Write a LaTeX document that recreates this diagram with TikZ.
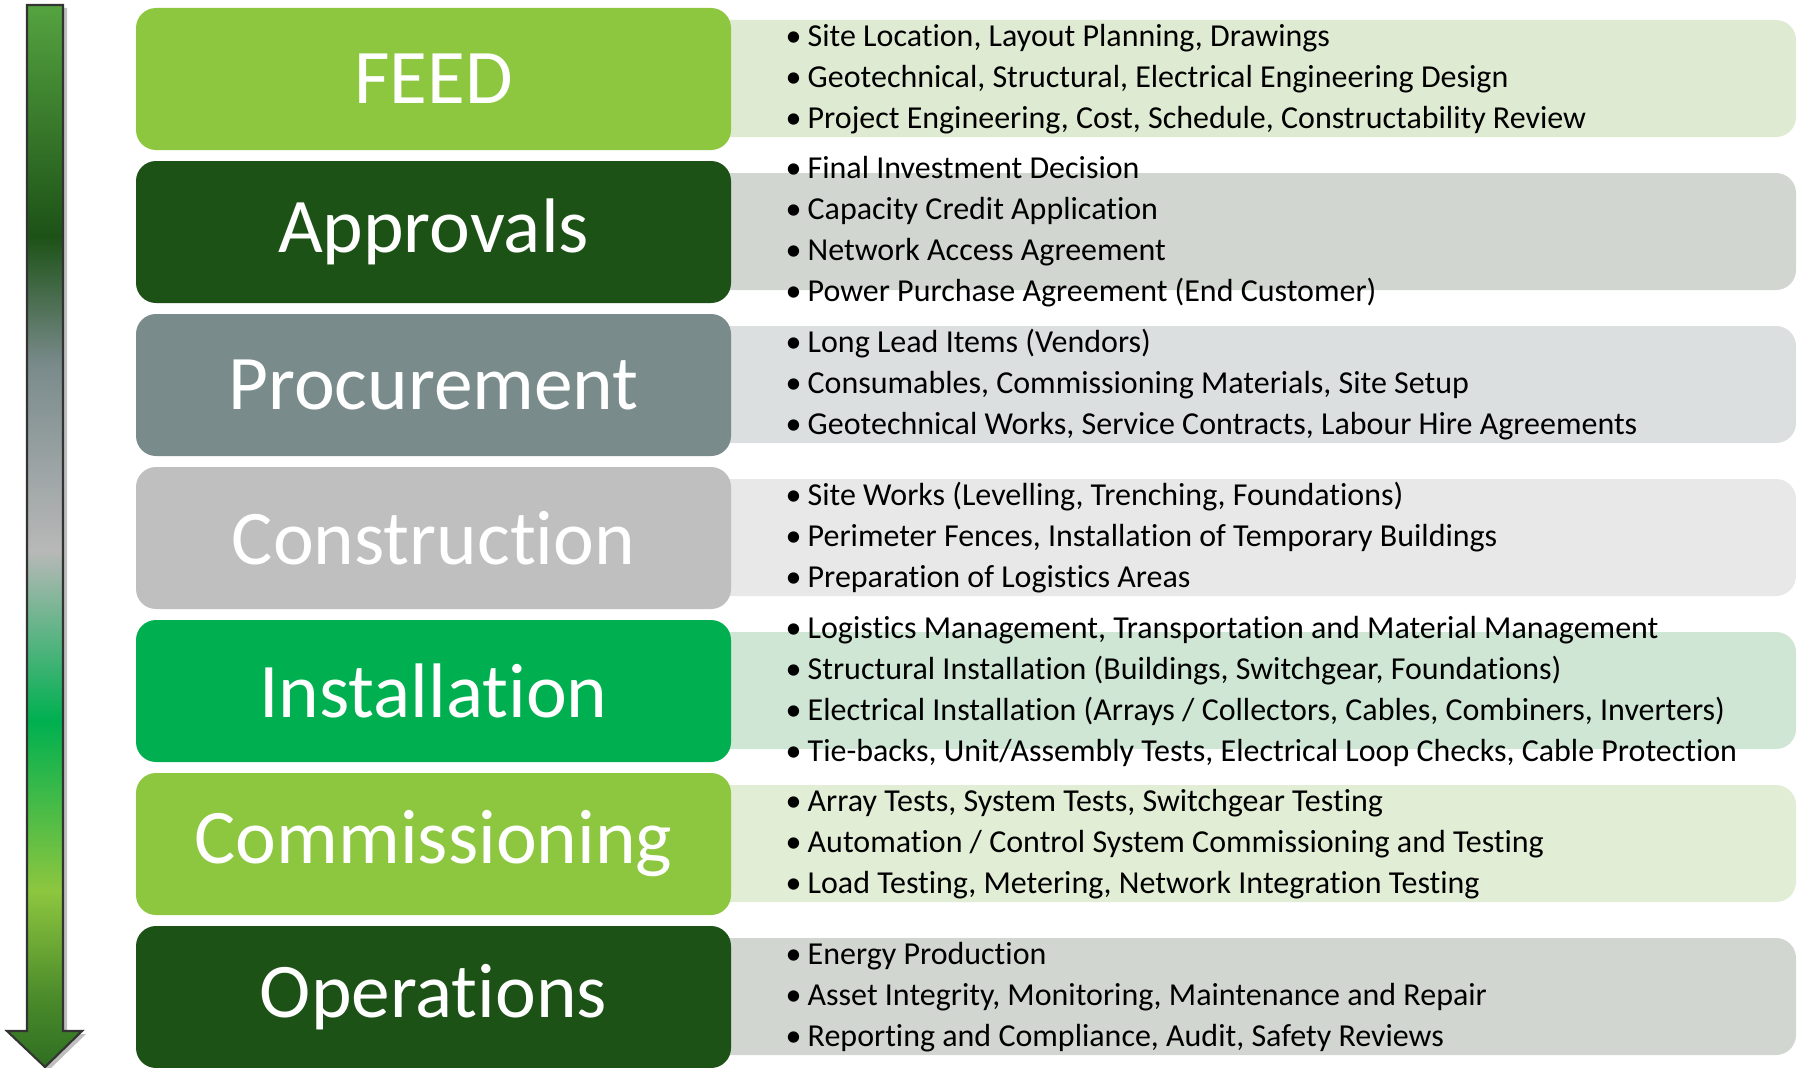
\documentclass[tikz,border=0pt]{standalone}
\usepackage{fontspec}
\setmainfont[Ligatures=NoCommon]{Carlito}
\usepackage{xcolor}
\usepackage{tikz}
\usetikzlibrary{shapes, positioning, calc, shadows}

\definecolor{feedcolor}{RGB}{141, 198, 63}
\definecolor{approvalcolor}{RGB}{29, 82, 23}
\definecolor{procurecolor}{RGB}{122, 139, 140}
\definecolor{constructcolor}{RGB}{191, 191, 191}
\definecolor{installcolor}{RGB}{0, 176, 80}
\definecolor{commissioncolor}{RGB}{141, 198, 63}
\definecolor{operatecolor}{RGB}{29, 82, 23}
\definecolor{feedpanel}{RGB}{223, 234, 211}
\definecolor{approvalpanel}{RGB}{209, 214, 209}
\definecolor{procurepanel}{RGB}{219, 223, 224}
\definecolor{constructpanel}{RGB}{232, 232, 232}
\definecolor{installpanel}{RGB}{207, 230, 213}
\definecolor{commissionpanel}{RGB}{225, 237, 213}
\definecolor{operatepanel}{RGB}{209, 214, 209}
\definecolor{arrowtop}{RGB}{85, 163, 64}
\definecolor{arrowlight}{RGB}{184, 184, 184}
\definecolor{arrowolive}{RGB}{74, 138, 42}
\definecolor{arrowbottom}{RGB}{47, 110, 34}

\pgfdeclareverticalshading{phaseflow}{100bp}{%
  color(0bp)=(arrowbottom); color(25bp)=(arrowbottom);
  color(28.2bp)=(arrowolive); color(33.3bp)=(commissioncolor);
  color(41.3bp)=(installcolor); color(49.3bp)=(arrowlight);
  color(58bp)=(procurecolor); color(64.1bp)=(approvalcolor);
  color(75bp)=(arrowtop); color(100bp)=(arrowtop)}

\tikzset{
  phasebox/.style={rounded corners=0.2cm, minimum width=5.95cm, minimum height=1.42cm,
    inner sep=0pt, text=white, font=\fontsize{22}{26}\selectfont},
  infopanel/.style={rounded corners=0.2cm, minimum width=11.06cm, minimum height=1.17cm,
    inner sep=0pt},
  infotext/.style={anchor=west, inner sep=0pt, align=left,
    font=\fontsize{9.1}{11.66}\selectfont},
}
\newcommand{\itm}[1]{\makebox[0.22cm][l]{\textbullet}#1}

\begin{document}
\begin{tikzpicture}
    \useasboundingbox (0,0) rectangle (18.05,10.67);

    % Flow arrow
    \fill[black!25] (0.31,10.59) -- (0.67,10.59) -- (0.67,0.33) -- (0.86,0.33)
        -- (0.49,-0.03) -- (0.11,0.33) -- (0.31,0.33) -- cycle;
    \draw[black!80, line width=0.6pt, shading=phaseflow] (0.27,10.62) -- (0.63,10.62)
        -- (0.63,0.36) -- (0.82,0.36) -- (0.45,0) -- (0.07,0.36) -- (0.27,0.36) -- cycle;

    % Panels
    \node[infopanel, fill=feedpanel] (feedpanel) at (12.43,9.885) {};
    \node[infopanel, fill=approvalpanel] (approvalpanel) at (12.43,8.355) {};
    \node[infopanel, fill=procurepanel] (procurepanel) at (12.43,6.825) {};
    \node[infopanel, fill=constructpanel] (constructpanel) at (12.43,5.295) {};
    \node[infopanel, fill=installpanel] (installpanel) at (12.43,3.765) {};
    \node[infopanel, fill=commissionpanel] (commissionpanel) at (12.43,2.235) {};
    \node[infopanel, fill=operatepanel] (operatepanel) at (12.43,0.705) {};

    % Phase boxes
    \node[phasebox, fill=feedcolor] (feed) at (4.335,9.88) {FEED};
    \node[phasebox, fill=approvalcolor] (approvals) at (4.335,8.35) {Approvals};
    \node[phasebox, fill=procurecolor] (procurement) at (4.335,6.82) {Procurement};
    \node[phasebox, fill=constructcolor] (construction) at (4.335,5.29) {Construction};
    \node[phasebox, fill=installcolor] (installation) at (4.335,3.76) {Installation};
    \node[phasebox, fill=commissioncolor] (commissioning) at (4.335,2.23) {Commissioning};
    \node[phasebox, fill=operatecolor] (operations) at (4.335,0.70) {Operations};

    % Tasks
    \node[infotext] (feedtasks) at (7.85,9.88) {%
        \itm{Site Location, Layout Planning, Drawings}\\
        \itm{Geotechnical, Structural, Electrical Engineering Design}\\
        \itm{Project Engineering, Cost, Schedule, Constructability Review}};
    \node[infotext] (approvaltasks) at (7.85,8.35) {%
        \itm{Final Investment Decision}\\
        \itm{Capacity Credit Application}\\
        \itm{Network Access Agreement}\\
        \itm{Power Purchase Agreement (End Customer)}};
    \node[infotext] (procuretasks) at (7.85,6.82) {%
        \itm{Long Lead Items (Vendors)}\\
        \itm{Consumables, Commissioning Materials, Site Setup}\\
        \itm{Geotechnical Works, Service Contracts, Labour Hire Agreements}};
    \node[infotext] (constructtasks) at (7.85,5.29) {%
        \itm{Site Works (Levelling, Trenching, Foundations)}\\
        \itm{Perimeter Fences, Installation of Temporary Buildings}\\
        \itm{Preparation of Logistics Areas}};
    \node[infotext] (installtasks) at (7.85,3.76) {%
        \itm{Logistics Management, Transportation and Material Management}\\
        \itm{Structural Installation (Buildings, Switchgear, Foundations)}\\
        \itm{Electrical Installation (Arrays / Collectors, Cables, Combiners, Inverters)}\\
        \itm{Tie-backs, Unit/Assembly Tests, Electrical Loop Checks, Cable Protection}};
    \node[infotext] (commissiontasks) at (7.85,2.23) {%
        \itm{Array Tests, System Tests, Switchgear Testing}\\
        \itm{Automation / Control System Commissioning and Testing}\\
        \itm{Load Testing, Metering, Network Integration Testing}};
    \node[infotext] (operatetasks) at (7.85,0.70) {%
        \itm{Energy Production}\\
        \itm{Asset Integrity, Monitoring, Maintenance and Repair}\\
        \itm{Reporting and Compliance, Audit, Safety Reviews}};
\end{tikzpicture}
\end{document}
